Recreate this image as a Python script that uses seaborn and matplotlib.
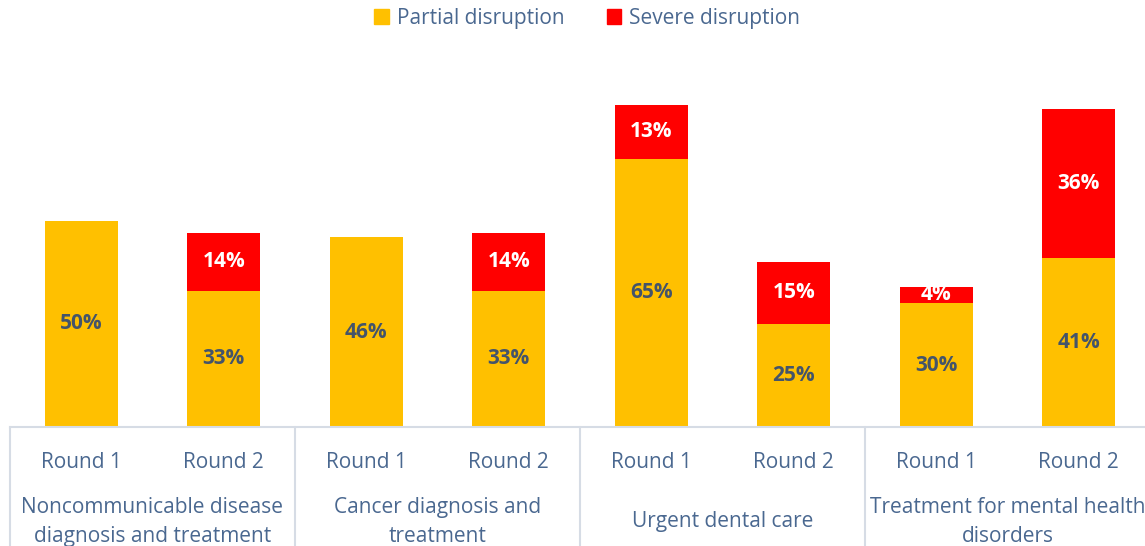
import pandas as pd
import matplotlib.pyplot as plt
import matplotlib.transforms as mtransforms
from matplotlib.patches import Patch
import seaborn as sns

# Data
groups = ["Noncommunicable disease\ndiagnosis and treatment",
          "Cancer diagnosis and\ntreatment",
          "Urgent dental care",
          "Treatment for mental health\ndisorders"]
rounds = ["Round 1", "Round 2"]
partial = [50, 33, 46, 33, 65, 25, 30, 41]
severe = [0, 14, 0, 14, 13, 15, 4, 36]

bar_ids = [f"{g[:6]} {r}" for g in groups for r in rounds]
df = pd.DataFrame({"bar": bar_ids, "partial": partial, "severe": severe})
df["total"] = df["partial"] + df["severe"]

yellow = "#FFC000"
red = "#FF0000"
label_col = "#44546A"
text_col = "#4A6890"
line_col = "#D6DCE5"

sns.set_style("white")
plt.rcParams["font.family"] = ["Open Sans", "DejaVu Sans"]

fig = plt.figure(figsize=(11.45, 5.46), dpi=100)
ax = fig.add_axes([10 / 1145, 119 / 546, 1140 / 1145, 427 / 546])

# red = total, yellow drawn on top = partial
sns.barplot(data=df, x="bar", y="total", color=red, width=0.51,
            saturation=1, ax=ax, order=bar_ids, linewidth=0)
sns.barplot(data=df, x="bar", y="partial", color=yellow, width=0.51,
            saturation=1, ax=ax, order=bar_ids, linewidth=0)

ax.set_ylim(0, 427 / 4.13)
ax.set_xlim(-0.5, len(bar_ids) - 0.5)
ax.set_xticks([])
ax.set_yticks([])
ax.set_xlabel("")
ax.set_ylabel("")
for s in ["top", "right", "left"]:
    ax.spines[s].set_visible(False)
ax.spines["bottom"].set_color(line_col)
ax.spines["bottom"].set_linewidth(1.5)

# value labels
for i, row in df.iterrows():
    ax.text(i, row["partial"] / 2, f"{row['partial']}%", ha="center", va="center",
            fontsize=15, fontweight="bold", color=label_col)
    if row["severe"] > 0:
        ax.text(i, row["partial"] + row["severe"] / 2, f"{row['severe']}%",
                ha="center", va="center", fontsize=15, fontweight="bold", color="white")

# two-level category axis
trans = mtransforms.blended_transform_factory(ax.transData, ax.transAxes)
px = 1 / 427
for i, b in enumerate(bar_ids):
    ax.text(i, -35 * px, rounds[i % 2], transform=trans, ha="center", va="center",
            fontsize=15, color=text_col)
for j, g in enumerate(groups):
    ax.text(2 * j + 0.5, -95 * px, g, transform=trans, ha="center", va="center",
            fontsize=15, color=text_col, linespacing=1.5)
for xs in [-0.5, 1.5, 3.5, 5.5, 7.5]:
    ax.plot([xs, xs], [0, -0.3], transform=trans, color=line_col, lw=1.5,
            clip_on=False)

handles = [Patch(color=yellow, label="Partial disruption"),
           Patch(color=red, label="Severe disruption")]
fig.legend(handles=handles, loc="upper center", bbox_to_anchor=(0.513, 1.02),
           ncol=2, frameon=False, fontsize=15, handlelength=0.7, handleheight=0.7,
           handletextpad=0.4, columnspacing=2.0, labelcolor=text_col)

fig.savefig("out.png", dpi=100)
